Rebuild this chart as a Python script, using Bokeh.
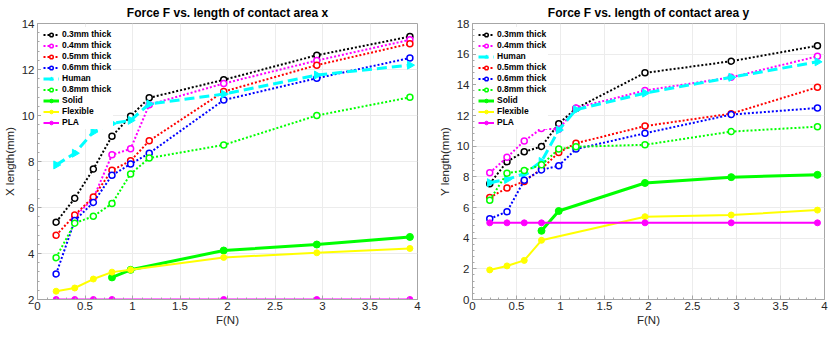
from bokeh.plotting import figure
from bokeh.layouts import row
from bokeh.models import Legend, LegendItem, Range1d, FixedTicker
from bokeh.embed import file_html
from bokeh.resources import INLINE

# ---------------- data ----------------
F_all = [0.196, 0.392, 0.588, 0.784, 0.98, 1.176, 1.96, 2.94, 3.92]
F_04x = [0.392, 0.588, 0.784, 0.98, 1.176, 1.96, 2.94, 3.92]
F_solid = [0.784, 0.98, 1.96, 2.94, 3.92]
F_flex_x = [0.196, 0.392, 0.588, 0.784, 0.98, 1.96, 2.94, 3.92]
F_flex_y = [0.196, 0.392, 0.588, 0.784, 1.96, 2.94, 3.92]
F_pla = [0.196, 0.392, 0.588, 0.784, 1.96, 2.94, 3.92]

# X length (mm)
x_03 = [5.36, 6.40, 7.67, 9.10, 9.97, 10.77, 11.55, 12.62, 13.43]
x_04 = [5.6, 6.4, 8.29, 8.55, 10.47, 11.39, 12.39, 13.29]
x_05 = [4.79, 5.67, 6.46, 7.62, 8.03, 8.90, 11.04, 12.19, 13.12]
x_06 = [3.11, 5.43, 6.22, 7.40, 7.89, 8.36, 10.67, 11.62, 12.50]
x_human = [7.85, 8.36, 9.29, 9.65, 9.79, 10.50, 10.93, 11.76, 12.19]
x_08 = [3.82, 5.32, 5.62, 6.17, 7.46, 8.15, 8.72, 10.00, 10.79]
x_solid = [2.96, 3.29, 4.13, 4.39, 4.72]
x_flex = [2.36, 2.50, 2.89, 3.19, 3.29, 3.83, 4.03, 4.22]
x_pla = [2, 2, 2, 2, 2, 2, 2]

# Y length (mm)
y_03 = [7.55, 8.99, 9.63, 9.98, 11.47, 12.46, 14.78, 15.54, 16.55]
y_04 = [8.26, 9.27, 10.34, 11.15, 11.10, 12.49, 13.63, 14.49, 15.86]
y_human = [7.62, 7.83, 8.20, 9.00, 11.05, 12.38, 13.46, 14.49, 15.50]
y_05 = [6.65, 7.27, 7.70, 8.52, 9.59, 10.19, 11.31, 12.12, 13.84]
y_06 = [5.26, 5.73, 7.77, 8.45, 8.73, 9.81, 10.84, 12.06, 12.49]
y_08 = [6.48, 8.24, 8.41, 8.78, 9.81, 9.96, 10.09, 10.95, 11.27]
y_solid = [4.48, 5.77, 7.60, 7.98, 8.13]
y_flex = [1.93, 2.19, 2.55, 3.86, 5.40, 5.51, 5.83]
y_pla = [5, 5, 5, 5, 5, 5, 5]

x_ticks = [0, 0.5, 1, 1.5, 2, 2.5, 3, 3.5, 4]
left_y_ticks = [2, 4, 6, 8, 10, 12, 14]
right_y_ticks = [0, 2, 4, 6, 8, 10, 12, 14, 16, 18]

FONT = "Liberation Sans"
AX = "#a6a6a6"
TXT = "#262626"


def styled(fw, title, ylabel, yr, yticks, bl, br):
    p = figure(frame_width=fw, frame_height=276, output_backend="svg",
               toolbar_location=None,
               x_range=Range1d(0, 4), y_range=Range1d(*yr),
               min_border_left=bl, min_border_right=br, min_border_top=0,
               min_border_bottom=0)
    p.title.text = title
    p.title.align = "center"
    p.title.text_font = FONT
    p.title.text_font_size = "12px"
    p.title.text_font_style = "bold"
    p.title.text_color = "#000000"
    p.title.standoff = 7
    p.outline_line_color = AX
    p.outline_line_width = 1
    p.background_fill_color = "white"
    p.border_fill_color = "white"
    for ax in (p.xaxis[0], p.yaxis[0]):
        ax.axis_line_color = AX
        ax.major_tick_line_color = AX
        ax.minor_tick_line_color = AX
        ax.major_tick_in = 4
        ax.major_tick_out = 0
        ax.minor_tick_in = 2
        ax.minor_tick_out = 0
        ax.major_label_text_font = FONT
        ax.major_label_text_font_size = "11.5px"
        ax.major_label_text_color = TXT
        ax.axis_label_text_font = FONT
        ax.axis_label_text_font_size = "11.5px"
        ax.axis_label_text_font_style = "normal"
        ax.axis_label_text_color = TXT
    p.xaxis[0].major_label_standoff = 2
    p.xaxis[0].axis_label_standoff = 1
    p.yaxis[0].major_label_standoff = 3
    p.yaxis[0].axis_label_standoff = 3
    p.xaxis[0].ticker = FixedTicker(ticks=x_ticks,
                                    minor_ticks=[i * 0.1 for i in range(41)])
    step = yticks[1] - yticks[0]
    p.yaxis[0].ticker = FixedTicker(ticks=yticks,
                                    minor_ticks=[yticks[0] + k * step / 5
                                                 for k in range(5 * (len(yticks) - 1) + 1)])
    p.xaxis[0].axis_label = "F(N)"
    p.yaxis[0].axis_label = ylabel
    p.xgrid.ticker = p.xaxis[0].ticker
    p.ygrid.ticker = p.yaxis[0].ticker
    p.xgrid.grid_line_color = "#ececec"
    p.ygrid.grid_line_color = "#ececec"
    return p


def dotted(p, xs, ys, color):
    l = p.line(xs, ys, line_color=color, line_width=2, line_dash="2 2")
    s = p.scatter(xs, ys, marker="circle", size=6, line_color=color, line_width=1.5,
                  fill_color="white")
    return [l, s]


def human(p, xs, ys):
    l = p.line(xs, ys, line_color="#00ffff", line_width=3, line_dash="10 5")
    s = p.scatter(xs, ys, marker="triangle", size=8, angle=-1.5708,
                  line_color="#00ffff", fill_color="#00ffff")
    return [l, s]


def solidline(p, xs, ys, color, lw, size):
    l = p.line(xs, ys, line_color=color, line_width=lw)
    s = p.scatter(xs, ys, marker="circle", size=size, line_color=color,
                  fill_color=color, line_width=1)
    return [l, s]


def add_legend(p, items):
    leg = Legend(items=[LegendItem(label=n, renderers=r) for n, r in items],
                 location="top_left")
    leg.label_text_font = FONT
    leg.label_text_font_size = "8.5px"
    leg.label_text_font_style = "bold"
    leg.label_text_color = "#000000"
    leg.label_height = 9
    leg.glyph_height = 9
    leg.glyph_width = 16
    leg.label_standoff = 3
    leg.spacing = 1
    leg.padding = 2
    leg.margin = 4
    leg.border_line_alpha = 0
    leg.background_fill_color = "white"
    leg.background_fill_alpha = 1
    p.add_layout(leg)


# ---------------- left chart ----------------
p1 = styled(380, "Force F vs. length of contact area x", "X length(mm)", (2, 14),
            left_y_ticks, 25, 18)
r03 = dotted(p1, F_all, x_03, "#000000")
r04 = dotted(p1, F_04x, x_04, "#ff00ff")
r05 = dotted(p1, F_all, x_05, "#ff0000")
r06 = dotted(p1, F_all, x_06, "#0000ff")
rh = human(p1, F_all, x_human)
r08 = dotted(p1, F_all, x_08, "#00ff00")
rs = solidline(p1, F_solid, x_solid, "#00ff00", 3, 7)
rf = solidline(p1, F_flex_x, x_flex, "#ffff00", 2, 6)
rp = solidline(p1, F_pla, x_pla, "#ff00ff", 2, 6)
add_legend(p1, [("0.3mm thick", r03), ("0.4mm thick", r04), ("0.5mm thick", r05),
                ("0.6mm thick", r06), ("Human", rh), ("0.8mm thick", r08),
                ("Solid", rs), ("Flexible", rf), ("PLA", rp)])

# ---------------- right chart ----------------
p2 = styled(352, "Force F vs. length of contact area y", "Y length(mm)", (0, 18),
            right_y_ticks, 25, 6)
q03 = dotted(p2, F_all, y_03, "#000000")
q04 = dotted(p2, F_all, y_04, "#ff00ff")
qh = human(p2, F_all, y_human)
q05 = dotted(p2, F_all, y_05, "#ff0000")
q06 = dotted(p2, F_all, y_06, "#0000ff")
q08 = dotted(p2, F_all, y_08, "#00ff00")
qs = solidline(p2, F_solid, y_solid, "#00ff00", 3, 7)
qf = solidline(p2, F_flex_y, y_flex, "#ffff00", 2, 6)
qp = solidline(p2, F_pla, y_pla, "#ff00ff", 2, 6)
add_legend(p2, [("0.3mm thick", q03), ("0.4mm thick", q04), ("Human", qh),
                ("0.5mm thick", q05), ("0.6mm thick", q06), ("0.8mm thick", q08),
                ("Solid", qs), ("Flexible", qf), ("PLA", qp)])

layout = row(p1, p2, spacing=0)
open("out.html", "w").write(file_html(layout, INLINE))
